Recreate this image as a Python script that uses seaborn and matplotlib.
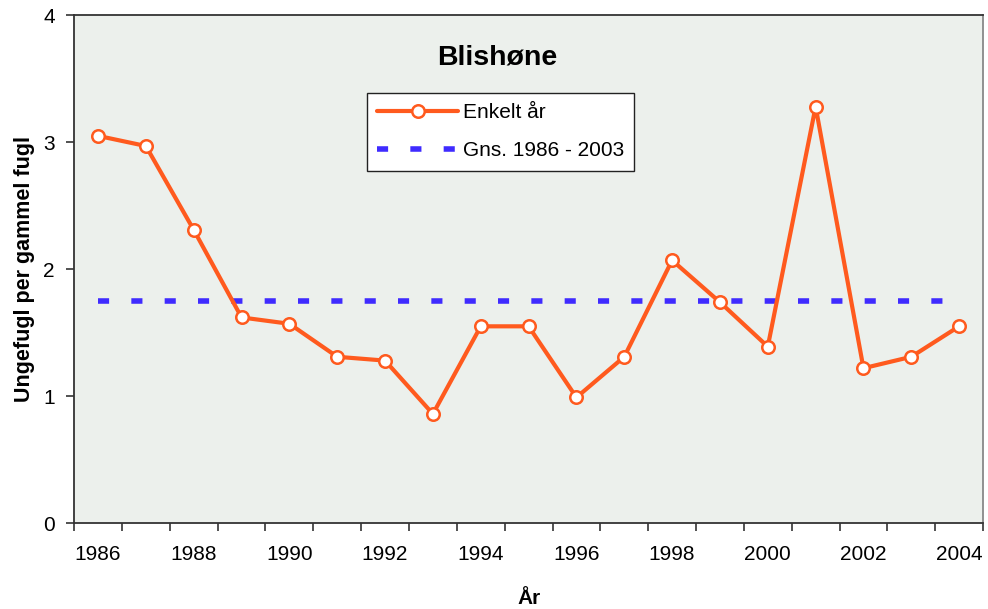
import matplotlib
matplotlib.use("Agg")
import matplotlib.pyplot as plt
import numpy as np
import pandas as pd
import seaborn as sns

years = list(range(1986, 2005))
values = [3.05, 2.97, 2.31, 1.62, 1.57, 1.31, 1.28, 0.86, 1.55, 1.55,
          0.99, 1.31, 2.07, 1.74, 1.39, 3.28, 1.22, 1.31, 1.55]
mean_value = [1.75] * len(years)
tick_years = [str(y) if (y - 1986) % 2 == 0 else "" for y in years]

sns.set_style("ticks")
plt.rcParams["font.family"] = ["Liberation Sans", "DejaVu Sans"]
plt.rcParams["text.color"] = "black"
plt.rcParams["axes.labelcolor"] = "black"
plt.rcParams["xtick.labelcolor"] = "black"
plt.rcParams["ytick.labelcolor"] = "black"

df = pd.DataFrame({"pos": np.arange(len(years)), "value": values, "mean": mean_value})

fig = plt.figure(figsize=(9.88, 6.09), dpi=100)
ax = fig.add_axes([0.075, 0.141, 0.920, 0.834])
ax.set_facecolor("#ECF0EC")

sns.lineplot(data=df, x="pos", y="value", ax=ax, color="#FF5A1E", linewidth=3,
             marker="o", markersize=9, markerfacecolor="white",
             markeredgecolor="#FF5A1E", markeredgewidth=1.8, label="Enkelt år", zorder=3)
sns.lineplot(data=df, x="pos", y="mean", ax=ax, color="#3F2BFF", linewidth=4,
             label="Gns. 1986 - 2003", zorder=2)
ax.lines[1].set_dashes([2, 4])

ax.set_xlim(-0.5, len(years) - 0.5)
ax.set_ylim(0, 4)
ax.set_yticks([0, 1, 2, 3, 4])
ax.set_xticks(np.arange(len(years)))
ax.set_xticklabels(tick_years)
ax.set_xticks(np.arange(-0.5, len(years)), minor=True)
ax.tick_params(axis="x", which="major", length=0, labelsize=15, pad=16)
ax.tick_params(axis="x", which="minor", length=6, width=1.2, color="#333333")
ax.tick_params(axis="y", length=6, width=1.2, color="#333333", labelsize=15, pad=8)

for side in ["left", "bottom", "top"]:
    ax.spines[side].set_color("#333333")
    ax.spines[side].set_linewidth(1.3)
ax.spines["right"].set_color("#888888")
ax.spines["right"].set_linewidth(1.3)

ax.set_xlabel("År", fontsize=15, fontweight="bold", labelpad=18)
ax.set_ylabel("Ungefugl per gammel fugl", fontsize=15.5, fontweight="bold", labelpad=6)
ax.text(0.465, 0.917, "Blishøne", transform=ax.transAxes, ha="center", va="center",
        fontsize=20.5, fontweight="bold")

leg = ax.legend(loc="upper left", bbox_to_anchor=(0.322, 0.847), fontsize=15,
                frameon=True, fancybox=False, framealpha=1, edgecolor="#222222",
                handlelength=3.9, handletextpad=0.2, borderpad=0.5, labelspacing=0.9,
                borderaxespad=0)
leg.get_frame().set_linewidth(1.0)

fig.savefig("out.png", dpi=100)
